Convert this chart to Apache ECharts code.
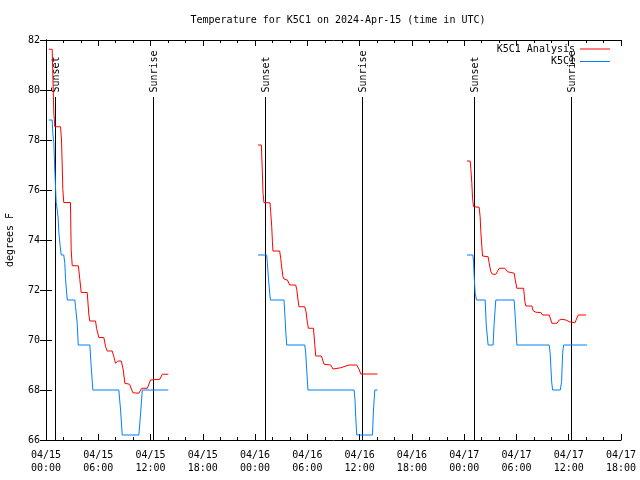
<!DOCTYPE html>
<html><head><meta charset="utf-8">
<script src="https://cdn.jsdelivr.net/npm/echarts@6/dist/echarts.min.js"></script>
<style>html,body{margin:0;padding:0;background:#fff}#c{width:640px;height:480px}</style>
</head><body><div id="c"></div>
<script>
// hours since 2024-04-15 00:00 UTC
const xTickLabels = ['04/15\n00:00','04/15\n06:00','04/15\n12:00','04/15\n18:00','04/16\n00:00','04/16\n06:00','04/16\n12:00','04/16\n18:00','04/17\n00:00','04/17\n06:00','04/17\n12:00','04/17\n18:00'];

const analysisDay1 = [[0.32,81.63],[0.71,81.63],[0.90,79.08],[1.01,78.53],[1.67,78.53],[1.78,78.0],[1.86,77.0],[1.93,76.03],[2.04,75.5],[2.81,75.5],[2.89,73.6],[3.01,72.97],[3.70,72.97],[3.77,72.8],[3.88,72.43],[4.04,71.9],[4.73,71.9],[4.92,71.0],[5.03,70.76],[5.69,70.76],[5.80,70.47],[6.07,70.1],[6.64,70.1],[6.84,69.73],[7.03,69.56],[7.60,69.56],[7.79,69.33],[7.98,69.07],[8.25,69.16],[8.64,69.16],[8.87,68.8],[9.05,68.27],[9.59,68.23],[9.97,67.89],[10.66,67.87],[10.97,68.07],[11.63,68.07],[12.00,68.4],[13.07,68.43],[13.35,68.63],[14.04,68.63]];
const analysisDay2 = [[24.33,77.8],[24.72,77.8],[24.76,77.4],[24.84,76.67],[24.91,75.87],[25.02,75.49],[25.71,75.49],[25.79,75.13],[25.91,74.53],[25.99,73.93],[26.05,73.56],[26.82,73.56],[26.94,73.27],[27.05,72.93],[27.20,72.53],[27.32,72.44],[27.71,72.4],[27.97,72.2],[28.66,72.2],[28.78,72.03],[28.93,71.6],[29.04,71.33],[29.70,71.33],[29.85,71.13],[30.01,70.67],[30.12,70.47],[30.70,70.47],[30.96,69.36],[31.61,69.36],[31.91,69.03],[32.68,69.0],[32.95,68.84],[33.83,68.89],[34.03,68.93],[34.78,69.0],[35.67,69.0],[35.93,68.83],[36.13,68.64],[38.05,68.64]];
const analysisDay3 = [[48.31,77.16],[48.69,77.16],[48.77,76.83],[48.88,76.27],[48.96,75.67],[49.08,75.33],[49.72,75.31],[49.83,74.93],[49.91,74.33],[50.03,73.73],[50.11,73.36],[50.75,73.33],[50.86,73.09],[51.06,72.73],[51.25,72.63],[51.64,72.63],[52.02,72.87],[52.67,72.87],[52.98,72.73],[53.17,72.69],[53.74,72.67],[53.86,72.4],[54.05,72.07],[54.82,72.07],[54.97,71.53],[55.08,71.36],[55.77,71.36],[55.92,71.17],[56.23,71.11],[56.81,71.1],[57.00,71.0],[57.76,71.0],[58.07,70.67],[58.65,70.67],[58.91,70.8],[59.22,70.83],[59.68,70.8],[60.06,70.73],[60.71,70.69],[61.09,71.0],[61.98,71.0]];

const obsDay1 = [[0.32,78.8],[0.71,78.8],[0.78,78.27],[0.90,77.87],[1.01,76.8],[1.17,75.5],[1.29,75.2],[1.40,74.87],[1.47,74.33],[1.63,73.73],[1.75,73.4],[2.04,73.4],[2.16,73.07],[2.24,72.47],[2.36,71.93],[2.44,71.6],[3.31,71.6],[3.39,71.33],[3.58,70.67],[3.70,69.8],[5.03,69.8],[5.19,68.93],[5.38,68.0],[8.36,68.0],[8.56,67.2],[8.75,66.2],[10.66,66.2],[10.86,67.07],[11.05,68.0],[14.04,68.0]];
const obsDay2 = [[24.33,73.4],[25.33,73.4],[25.41,73.07],[25.53,72.47],[25.68,71.87],[25.76,71.6],[27.32,71.6],[27.43,70.93],[27.51,70.4],[27.63,69.8],[29.70,69.8],[29.81,69.47],[30.01,68.33],[30.07,68.0],[35.36,68.0],[35.47,67.6],[35.55,66.93],[35.67,66.2],[37.47,66.2],[37.59,67.2],[37.74,68.0],[38.05,68.0]];
const obsDay3 = [[48.31,73.4],[49.00,73.4],[49.08,73.09],[49.15,72.53],[49.26,71.87],[49.42,71.6],[50.41,71.6],[50.53,70.6],[50.75,69.8],[51.32,69.8],[51.44,70.67],[51.63,71.6],[53.73,71.6],[53.86,70.93],[54.05,69.8],[57.76,69.8],[57.87,69.47],[58.04,68.33],[58.15,68.0],[59.03,68.0],[59.18,68.33],[59.30,69.47],[59.41,69.8],[62.09,69.8]];

const sunTimes = [1.03, 12.27, 25.13, 36.24, 49.14, 60.27];
const sunLabels = ['Sunset','Sunrise','Sunset','Sunrise','Sunset','Sunrise'];

function joinDays(days){
  const out = [];
  days.forEach((d,i)=>{ if(i>0) out.push([d[0][0]-1, null]); d.forEach(p=>out.push(p)); });
  return out;
}

const FONT = '"DejaVu Sans Mono", "Liberation Mono", monospace';
const chart = echarts.init(document.getElementById('c'), null, {renderer:'canvas'});
const axisCommonX = {
  type:'value', min:0, max:66, interval:6,
  axisLine:{show:true, lineStyle:{color:'#000', width:1}},
  axisTick:{show:true, inside:true, length:6, lineStyle:{color:'#000'}},
  minorTick:{show:true, splitNumber:3, length:3, lineStyle:{color:'#000'}},
  splitLine:{show:false}
};
const axisCommonY = {
  type:'value', min:66, max:82, interval:2,
  axisLine:{show:true, lineStyle:{color:'#000', width:1}},
  axisTick:{show:true, inside:true, length:6, lineStyle:{color:'#000'}},
  splitLine:{show:false}
};
chart.setOption({
  animation:false,
  backgroundColor:'#fff',
  title:{text:'Temperature for K5C1 on 2024-Apr-15 (time in UTC)', left:333, textAlign:'center', top:10,
    textStyle:{fontFamily:FONT, fontSize:10, fontWeight:'normal', color:'#000'}},
  legend:[
    {data:['K5C1 Analysis'], right:30, top:44, orient:'vertical', align:'right', padding:0, itemGap:0,
     itemWidth:30, itemHeight:12, icon:'path://M0,5.5 L30,5.5 L30,6.5 L0,6.5 Z',
     textStyle:{fontFamily:FONT, fontSize:10, color:'#000', padding:[0,0,0,0]}},
    {data:['K5C1'], right:30, top:56.5, orient:'vertical', align:'right', padding:0, itemGap:0,
     itemWidth:30, itemHeight:12, icon:'path://M0,5.5 L30,5.5 L30,6.5 L0,6.5 Z',
     textStyle:{fontFamily:FONT, fontSize:10, color:'#000', padding:[0,0,0,0]}}
  ],
  grid:{left:46, right:19, top:40, bottom:40, containLabel:false, outerBoundsMode:'none'},
  xAxis:[
    Object.assign({}, axisCommonX, {position:'bottom',
      axisLabel:{show:true, margin:9, fontFamily:FONT, fontSize:10, color:'#000', lineHeight:13,
        showMinLabel:true, showMaxLabel:true,
        formatter:v=>xTickLabels[Math.round(v/6)]}}),
    Object.assign({}, axisCommonX, {position:'top', axisLabel:{show:false}})
  ],
  yAxis:[
    Object.assign({}, axisCommonY, {position:'left', name:'degrees F', nameLocation:'middle', nameGap:31,
      nameTextStyle:{fontFamily:FONT, fontSize:10, color:'#000'},
      axisLabel:{show:true, margin:6, fontFamily:FONT, fontSize:10, color:'#000'}}),
    Object.assign({}, axisCommonY, {position:'right', axisLabel:{show:false}})
  ],
  series:[
    {type:'custom', name:'sun', z:1, xAxisIndex:0, yAxisIndex:0,
     data: sunTimes.map(t=>[t,66]), encode:{x:0,y:1}, silent:true,
     renderItem:(params, api)=>{
       const t = api.value(0);
       const p0 = api.coord([t,66]);
       const p1 = api.coord([t,79.72]);
       const pt = api.coord([t,79.9]);
       const x = Math.round(p0[0]) + 0.5;
       return {type:'group', children:[
         {type:'line', shape:{x1:x, y1:p0[1], x2:x, y2:p1[1]}, style:{stroke:'#000', lineWidth:1}},
         {type:'text', x:x+0.5, y:pt[1], rotation:Math.PI/2,
          style:{text:sunLabels[params.dataIndex], fill:'#000', fontSize:10, fontFamily:FONT, align:'left', verticalAlign:'middle'}}
       ]};
     }},
    {type:'line', name:'K5C1 Analysis', z:3, data:joinDays([analysisDay1, analysisDay2, analysisDay3]),
     showSymbol:false, symbol:'none', connectNulls:false, color:'#ff0000', lineStyle:{color:'#ff0000', width:1}},
    {type:'line', name:'K5C1', z:2, data:joinDays([obsDay1, obsDay2, obsDay3]),
     showSymbol:false, symbol:'none', connectNulls:false, color:'#0080ff', lineStyle:{color:'#0080ff', width:1}}
  ]
});
</script></body></html>
